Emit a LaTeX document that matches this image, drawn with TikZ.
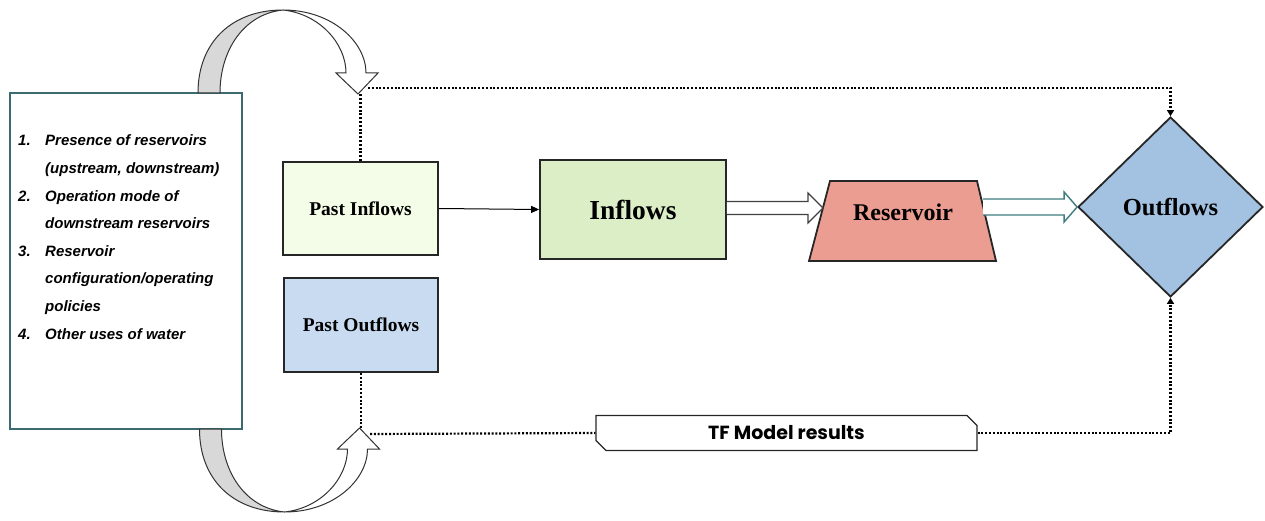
\documentclass[tikz,border=0pt]{standalone}
\usepackage{fontspec}
\setmainfont{Liberation Serif}
\newfontfamily\arialfont{Liberation Sans}
\newfontfamily\popfont{Poppins}
\usetikzlibrary{shapes.geometric,shapes.misc,arrows.meta,calc}
\definecolor{pinfill}{HTML}{F4FDE8}
\definecolor{poutfill}{HTML}{C8DBF0}
\definecolor{inffill}{HTML}{DCEEC6}
\definecolor{resfill}{HTML}{EC9D92}
\definecolor{outfill}{HTML}{A3C1E0}
\definecolor{lboxc}{HTML}{3B6B70}
\definecolor{grayarr}{HTML}{D8D8D8}
\definecolor{tealarr}{HTML}{3E7C7E}
\newcommand{\blockarr}[6]{%
  \draw[#6] ($(#1)+(0,-#3)$) -- ($(#2)+(-#5,-#3)$) -- ($(#2)+(-#5,-#4)$) -- (#2)
    -- ($(#2)+(-#5,#4)$) -- ($(#2)+(-#5,#3)$) -- ($(#1)+(0,#3)$);}
\newcommand{\curvedarr}{%
  \draw[fill=grayarr, draw=black!80, line width=1pt, line join=round]
    (198,93) .. controls (198,42) and (232,10) .. (283,10)
    .. controls (244,14) and (220,50) .. (220,93) -- cycle;
  \draw[fill=white, draw=black!80, line width=1pt, line join=miter]
    (283,10) .. controls (332,10) and (366,42) .. (366,73)
    -- (378,73) -- (358,94) -- (336,73) -- (346,73)
    .. controls (346,44) and (320,14) .. (283,10) -- cycle;}
\begin{document}
\begin{tikzpicture}[x=1pt,y=-1pt,
  box/.style={draw=black!85, line width=1.8pt, inner sep=0pt},
  dotline/.style={line width=2.2pt, dash pattern=on 2pt off 1.8pt, black},
  dotarrow/.style={dotline, -{Triangle[length=6pt,width=7pt]}},
  serifbf/.style={font=\bfseries\fontsize{#1}{#1}\selectfont}]
\useasboundingbox (0,0) rectangle (1265,521);

% left box with list
\node[draw=lboxc, line width=1.5pt, minimum width=232pt, minimum height=336pt, inner sep=0pt] (lbox) at (126,261) {};
\node[anchor=base west, inner sep=0pt, font=\arialfont\bfseries\itshape\fontsize{15}{27.6}\selectfont] (list) at (18,146)
  {\begin{tabular}[t]{@{}p{27pt}@{}l@{}}
   1. & Presence of reservoirs\\
      & (upstream, downstream)\\
   2. & Operation mode of\\
      & downstream reservoirs\\
   3. & Reservoir\\
      & configuration/operating\\
      & policies\\
   4. & Other uses of water
   \end{tabular}};

% curved arrows
\begin{scope}
\curvedarr
\end{scope}
\begin{scope}[shift={(1.5,522)}, yscale=-1]
\curvedarr
\end{scope}

% main nodes
\node[box, fill=pinfill, minimum width=155pt, minimum height=93pt, serifbf=19.5] (pin) at (360.5,208.5) {Past Inflows};
\node[box, fill=poutfill, minimum width=154pt, minimum height=94pt, serifbf=19.5] (pout) at (361,325) {Past Outflows};
\node[box, fill=inffill, minimum width=186pt, minimum height=99pt, serifbf=27.5] (inf) at (633,209.5) {Inflows};
\draw[draw=black!85, line width=1.8pt, fill=resfill, line join=miter]
  (830,181) -- (977,181) -- (996,261) -- (809,261) -- cycle;
\node[serifbf=24] (res) at (903,212) {Reservoir};
\node[diamond, draw=black!85, line width=1.8pt, fill=outfill, minimum width=185pt, minimum height=180pt,
      inner sep=0pt, aspect=1, serifbf=24.5] (outf) at (1170.5,207) {Outflows};
\node[chamfered rectangle, chamfered rectangle corners={north east,south west},
      chamfered rectangle xsep=5pt, chamfered rectangle ysep=5pt,
      draw=black!85, line width=1.3pt, minimum width=381pt, minimum height=35pt, inner sep=0pt,
      font=\popfont\bfseries\fontsize{19}{19}\selectfont] (tf) at (786.5,433) {TF Model results};

% arrows
\draw[line width=1pt, -{Triangle[length=8pt,width=7pt]}] (pin.east) -- (inf.west);
\coordinate (resIn) at (823,208);
\coordinate (resOut) at (983,207);
\blockarr{inf.east |- resIn}{resIn}{6.5}{15}{15}{draw=black!75, fill=white, line width=1.2pt}
\blockarr{resOut}{outf.west}{8}{15}{13}{draw=tealarr, fill=white, line width=1.4pt}

% dotted connectors
\coordinate (topTip) at (358,94);
\coordinate (topJ) at (368,88);
\coordinate (botTip) at (360,428);
\coordinate (botJ) at (370,434);
\draw[dotline] (pin.north) -- (pin.north |- topTip);
\draw[dotarrow] (topJ) -| (outf.north);
\draw[dotline] (pout.south) -- (pout.south |- botTip);
\draw[dotline] (botJ) -- (tf.west);
\draw[dotarrow] (tf.east) -| (outf.south);
\end{tikzpicture}
\end{document}
